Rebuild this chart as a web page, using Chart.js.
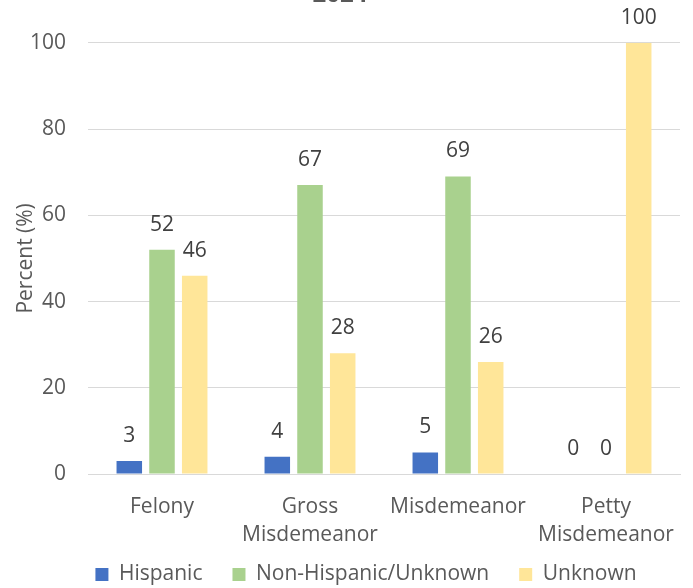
<!DOCTYPE html>
<html>
<head>
<meta charset="utf-8">
<script src="https://cdn.jsdelivr.net/npm/chart.js@4"></script>
<style>
  html, body { margin: 0; padding: 0; background: #fff; }
  #frame { width: 693px; height: 588px; overflow: hidden; }
  #chart { display: block; margin-top: -23px; }
</style>
</head>
<body>
<div id="frame"><canvas id="chart" width="693" height="611"></canvas></div>
<script>
const categories = [
  "Felony",
  ["Gross", "Misdemeanor"],
  "Misdemeanor",
  ["Petty", "Misdemeanor"]
];
const hispanic = [3, 4, 5, 0];
const nonHispanic = [52, 67, 69, 0];
const unknown = [46, 28, 26, 100];
const yTicks = [0, 20, 40, 60, 80, 100];

const FONT = "'Open Sans', sans-serif";
const TEXT = "#595959";
const SIZE = 21;

// writes each bar's value just above it
const valueLabels = {
  id: "valueLabels",
  afterDatasetsDraw(chart) {
    const ctx = chart.ctx;
    ctx.save();
    ctx.font = SIZE + "px " + FONT;
    ctx.fillStyle = "#404040";
    ctx.textAlign = "center";
    ctx.textBaseline = "middle";
    chart.data.datasets.forEach((ds, i) => {
      chart.getDatasetMeta(i).data.forEach((bar, j) => {
        ctx.fillText(String(ds.data[j]), bar.x, bar.y - 25);
      });
    });
    ctx.restore();
  }
};

// keep the legend box short, lift it a bit and nudge it to the right
const legendTweak = {
  id: "legendTweak",
  afterInit(chart) {
    const legend = chart.legend;
    const fit = legend.fit;
    legend.fit = function () {
      fit.call(this);
      this.height = 40;
    };
  },
  afterLayout(chart) {
    const legend = chart.legend;
    legend.left += 26;
    legend.right += 26;
    legend.top -= 14;
    legend.bottom = chart.height;
    legend.height = legend.bottom - legend.top;
  }
};

new Chart(document.getElementById("chart"), {
  type: "bar",
  data: {
    labels: categories,
    datasets: [
      { label: "Hispanic", data: hispanic, backgroundColor: "#4472C4" },
      { label: "Non-Hispanic/Unknown", data: nonHispanic, backgroundColor: "#A9D18E" },
      { label: "Unknown", data: unknown, backgroundColor: "#FFE699" }
    ]
  },
  options: {
    responsive: false,
    animation: false,
    categoryPercentage: 0.663,
    barPercentage: 0.78,
    layout: { padding: { left: 0, right: 13, top: 0, bottom: 0 } },
    plugins: {
      title: {
        display: true,
        text: "2024",
        color: TEXT,
        font: { family: FONT, size: 24 },
        padding: { top: 4, bottom: 33 }
      },
      legend: {
        position: "bottom",
        labels: {
          color: TEXT,
          font: { family: FONT, size: SIZE },
          boxWidth: 13,
          boxHeight: 13,
          padding: 30
        }
      },
      tooltip: { enabled: false }
    },
    scales: {
      x: {
        grid: { display: false },
        border: { color: "#D9D9D9", width: 1 },
        afterFit(scale) {
          scale.height = 74;
        },
        ticks: {
          color: TEXT,
          font: { family: FONT, size: SIZE, lineHeight: 1.33 },
          padding: 11,
          maxRotation: 0
        }
      },
      y: {
        min: 0,
        max: 100,
        afterBuildTicks(scale) {
          scale.ticks = yTicks.map(v => ({ value: v }));
        },
        afterFit(scale) {
          scale.width = 88;
        },
        grid: { color: "#D9D9D9", drawTicks: false },
        border: { display: false },
        ticks: {
          color: TEXT,
          font: { family: FONT, size: SIZE },
          padding: 22
        },
        title: {
          display: true,
          text: "Percent (%)",
          color: TEXT,
          font: { family: FONT, size: SIZE },
          padding: { top: 13, bottom: 0 }
        }
      }
    }
  },
  plugins: [valueLabels, legendTweak]
});
</script>
</body>
</html>
